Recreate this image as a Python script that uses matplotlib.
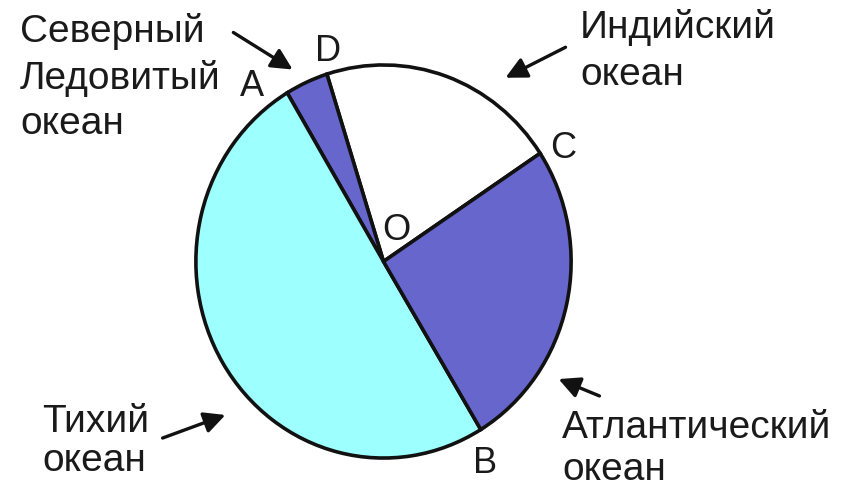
import matplotlib
matplotlib.use("Agg")
import matplotlib.pyplot as plt

# ---- data (shares of the World Ocean area, %) ----
oceans = ["Индийский океан", "Северный Ледовитый океан", "Тихий океан", "Атлантический океан"]
shares = [20.6, 3.7, 50.1, 25.6]
colors = ["#FFFFFF", "#6666CC", "#9EFFFF", "#6666CC"]
start_angle = 33.4

W, H = 856, 489
fig = plt.figure(figsize=(W / 100, H / 100), dpi=100)
fig.patch.set_facecolor("white")

def fx(x):
    return x / W

def fy(y):
    return 1 - y / H

# pie axes (slightly taller than wide, like the reference)
left, right, top, bottom = 194, 573, 64, 461
ax = fig.add_axes([fx(left), fy(bottom), (right - left) / W, (bottom - top) / H])
ax.pie(shares, colors=colors, startangle=start_angle, counterclock=True,
       wedgeprops=dict(edgecolor="#111111", linewidth=2.6), radius=1.0)
ax.set_aspect("auto")
ax.set_xlim(-1.01, 1.01)
ax.set_ylim(-1.01, 1.01)
ax.axis("off")

font = "Liberation Sans"
fs = 28
tc = "#1a1a1a"

def label(lines, x, baselines, size=fs):
    for line, b in zip(lines, baselines):
        fig.text(fx(x), fy(b), line, fontsize=size, family=font, color=tc,
                 ha="left", va="baseline")

label(["Северный", "Ледовитый", "океан"], 20, [42, 89, 134])
label(["Индийский", "океан"], 580, [38, 85])
label(["Тихий", "океан"], 42, [432, 471])
label(["Атлантический", "океан"], 562, [438, 480])

# point letters
def letter(t, x, y):
    fig.text(fx(x), fy(y), t, fontsize=26, family=font, color=tc,
             ha="center", va="baseline")

letter("A", 252, 96)
letter("D", 328, 61)
letter("C", 563, 158)
letter("O", 396, 240)
letter("B", 485, 473)

# arrows
def arrow(x0, y0, x1, y1):
    fig.add_artist(matplotlib.patches.FancyArrowPatch(
        (fx(x0), fy(y0)), (fx(x1), fy(y1)), transform=fig.transFigure,
        arrowstyle="-|>,head_length=8,head_width=4", mutation_scale=1.6,
        color="#111111", linewidth=2.4))

arrow(231, 32, 295, 72)
arrow(568, 47, 503, 80)
arrow(160, 440, 228, 415)
arrow(602, 398, 556, 379)

fig.savefig("out.png", dpi=100, facecolor="white")
